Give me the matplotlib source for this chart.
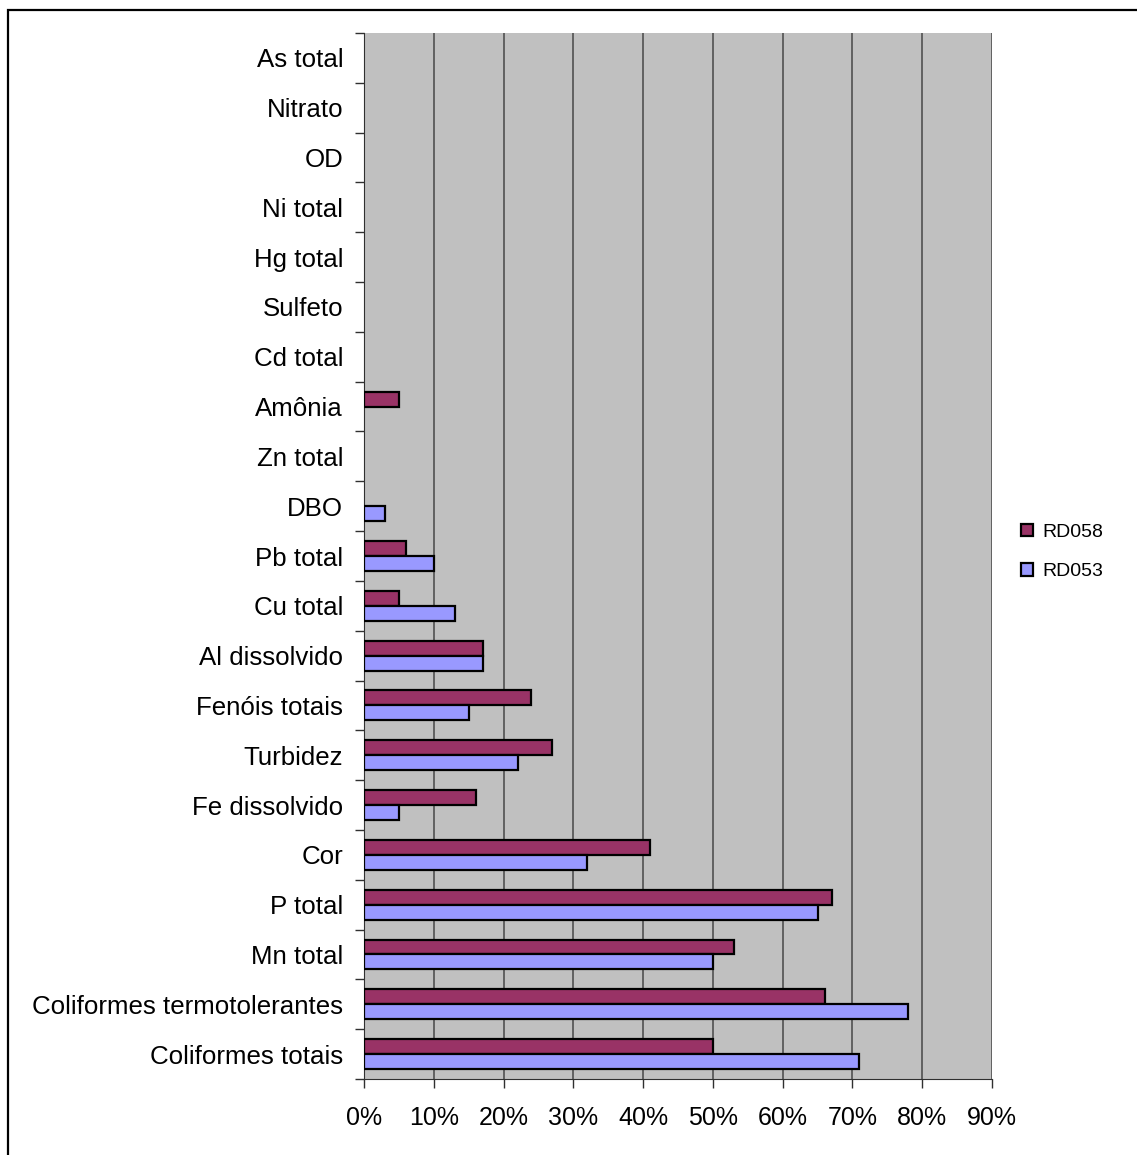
import numpy as np
import matplotlib.pyplot as plt
from matplotlib.patches import Rectangle

plt.rcParams['font.family'] = ['Liberation Sans', 'DejaVu Sans']

# categorias de baixo para cima
parametros = ['Coliformes totais', 'Coliformes termotolerantes', 'Mn total', 'P total',
              'Cor', 'Fe dissolvido', 'Turbidez', 'Fenóis totais', 'Al dissolvido',
              'Cu total', 'Pb total', 'DBO', 'Zn total', 'Amônia', 'Cd total',
              'Sulfeto', 'Hg total', 'Ni total', 'OD', 'Nitrato', 'As total']
rd058 = [50, 66, 53, 67, 41, 16, 27, 24, 17, 5, 6, 0, 0, 5, 0, 0, 0, 0, 0, 0, 0]
rd053 = [71, 78, 50, 65, 32, 5, 22, 15, 17, 13, 10, 3, 0, 0, 0, 0, 0, 0, 0, 0, 0]
ticks_x = [0, 10, 20, 30, 40, 50, 60, 70, 80, 90]

fig = plt.figure(figsize=(11.37, 11.55), dpi=100)
ax = fig.add_axes([364 / 1137, 1 - 1079 / 1155, (992 - 364) / 1137, (1079 - 33) / 1155])
ax.set_facecolor('#C0C0C0')

y = np.arange(len(parametros))
h = 0.3
b1 = ax.barh(y + h / 2, rd058, height=h, color='#993366', edgecolor='black', linewidth=1.6, label='RD058', zorder=3)
b2 = ax.barh(y - h / 2, rd053, height=h, color='#9999FF', edgecolor='black', linewidth=1.6, label='RD053', zorder=3)

# barras com valor zero não aparecem
for barras in (b1, b2):
    for r in barras:
        if r.get_width() == 0:
            r.set_visible(False)

ax.set_xlim(0, 90)
ax.set_ylim(-0.5, len(parametros) - 0.5)
ax.set_xticks(ticks_x)
ax.set_xticklabels([f'{t}%' for t in ticks_x], fontsize=18)
ax.grid(axis='x', color='#5a5a5a', linewidth=1.3, zorder=0)

# ticks nas divisões, rótulos no centro
ax.set_yticks(np.arange(-0.5, len(parametros), 1))
ax.set_yticklabels([])
ax.set_yticks(y, minor=True)
ax.set_yticklabels(parametros, minor=True, fontsize=18.6)
ax.tick_params(axis='y', which='minor', length=0, pad=15)
ax.tick_params(axis='y', which='major', length=6.5, width=1, color='#303030')
ax.tick_params(axis='x', length=6.5, width=1, color='#303030', pad=13)

for s in ['top', 'right']:
    ax.spines[s].set_visible(False)
ax.spines['left'].set_color('#303030')
ax.spines['bottom'].set_color('#303030')

fig.legend(handles=[b1, b2], loc='center left', bbox_to_anchor=(1021 / 1137, 1 - 552 / 1155),
           frameon=False, fontsize=14, handlelength=0.62, handleheight=0.62, handletextpad=0.46,
           labelspacing=1.15, borderpad=0, borderaxespad=0)

fig.patches.append(Rectangle((8 / 1137, -0.1), 1.2, 1 - 10 / 1155 + 0.1, transform=fig.transFigure,
                             fill=False, edgecolor='black', linewidth=1.6))

fig.savefig('out.png', dpi=100)
